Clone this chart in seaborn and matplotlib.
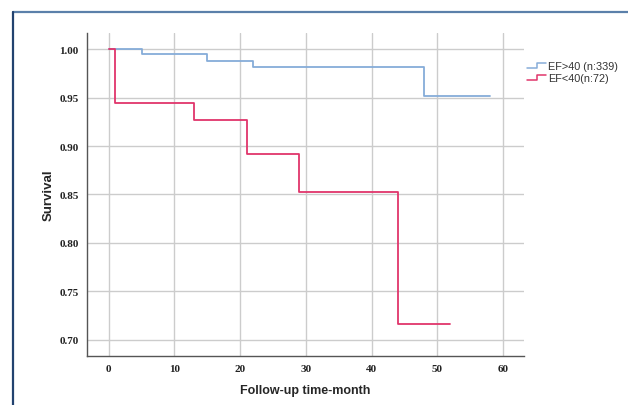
import numpy as np
import pandas as pd
import matplotlib
matplotlib.use("Agg")
import matplotlib.pyplot as plt
import seaborn as sns
from matplotlib.lines import Line2D
from matplotlib.legend_handler import HandlerBase

# Kaplan-Meier step points
ef_hi_time = [0, 5, 15, 22, 48, 58]
ef_hi_surv = [1.000, 0.9945, 0.988, 0.982, 0.952, 0.952]
ef_lo_time = [0, 1, 13, 21, 29, 44, 52]
ef_lo_surv = [1.000, 0.944, 0.9265, 0.8915, 0.8525, 0.716, 0.716]

group_labels = ["EF>40 (n:339)", "EF<40(n:72)"]
group_colors = ["#86acd9", "#e0356b"]

x_ticks = [0, 10, 20, 30, 40, 50, 60]
y_ticks = [0.70, 0.75, 0.80, 0.85, 0.90, 0.95, 1.00]

df = pd.concat([
    pd.DataFrame({"time": ef_hi_time, "surv": ef_hi_surv, "group": group_labels[0]}),
    pd.DataFrame({"time": ef_lo_time, "surv": ef_lo_surv, "group": group_labels[1]}),
])

sns.set_style("white")

fig = plt.figure(figsize=(6.28, 4.06), dpi=100)
ax = fig.add_axes([0.1385, 0.121, 0.696, 0.795])

for lab, col in zip(group_labels, group_colors):
    d = df[df["group"] == lab]
    sns.lineplot(data=d, x="time", y="surv", drawstyle="steps-post",
                 color=col, lw=1.3, ax=ax, legend=False, estimator=None)

ax.set_xlim(-3.3, 63.2)
ax.set_ylim(0.6835, 1.0165)
ax.set_xticks(x_ticks)
ax.set_yticks(y_ticks)
ax.set_xticklabels([str(t) for t in x_ticks], family="Liberation Serif",
                   fontweight="bold", fontsize=8, color="#222222")
ax.set_yticklabels([f"{t:.2f}" for t in y_ticks], family="Liberation Serif",
                   fontweight="bold", fontsize=8, color="#222222")
ax.tick_params(axis="x", length=0, pad=6)
ax.tick_params(axis="y", length=0, pad=6)
ax.grid(True, color="#cccccc", lw=1)
ax.set_axisbelow(True)
for s in ["top", "right"]:
    ax.spines[s].set_visible(False)
for s in ["left", "bottom"]:
    ax.spines[s].set_color("#555555")
    ax.spines[s].set_linewidth(1)

ax.set_xlabel("Follow-up time-month", family="Liberation Sans", fontweight="bold",
              fontsize=9, labelpad=8)
ax.set_ylabel("Survival", family="Liberation Sans", fontweight="bold",
              fontsize=9.5, labelpad=3)


class StepHandler(HandlerBase):
    def create_artists(self, legend, orig_handle, xdescent, ydescent, width,
                       height, fontsize, trans):
        x0, x1 = -xdescent, -xdescent + width
        xm = x0 + width * 0.55
        y0, y1 = -ydescent + height * 0.2, -ydescent + height * 0.8
        ln = Line2D([x0, xm, xm, x1], [y0, y0, y1, y1],
                    color=orig_handle.get_color(), lw=1.1, transform=trans)
        return [ln]


handles = [Line2D([], [], color=c) for c in group_colors]
leg = ax.legend(handles, group_labels, handler_map={Line2D: StepHandler()},
                loc="upper left", bbox_to_anchor=(0.997, 0.926), frameon=False,
                prop={"family": "Liberation Sans", "size": 7.8},
                handlelength=1.7, handletextpad=0.2, labelspacing=0.2,
                borderaxespad=0.0)
for t in leg.get_texts():
    t.set_color("#333333")

# outer frame lines
fig.add_artist(Line2D([0.021, 1.0], [0.969, 0.969], transform=fig.transFigure,
                      color="#5b80aa", lw=1.6))
fig.add_artist(Line2D([0.021, 0.021], [0.0, 0.969], transform=fig.transFigure,
                      color="#22426f", lw=1.6))

fig.savefig("out.png", dpi=100)
